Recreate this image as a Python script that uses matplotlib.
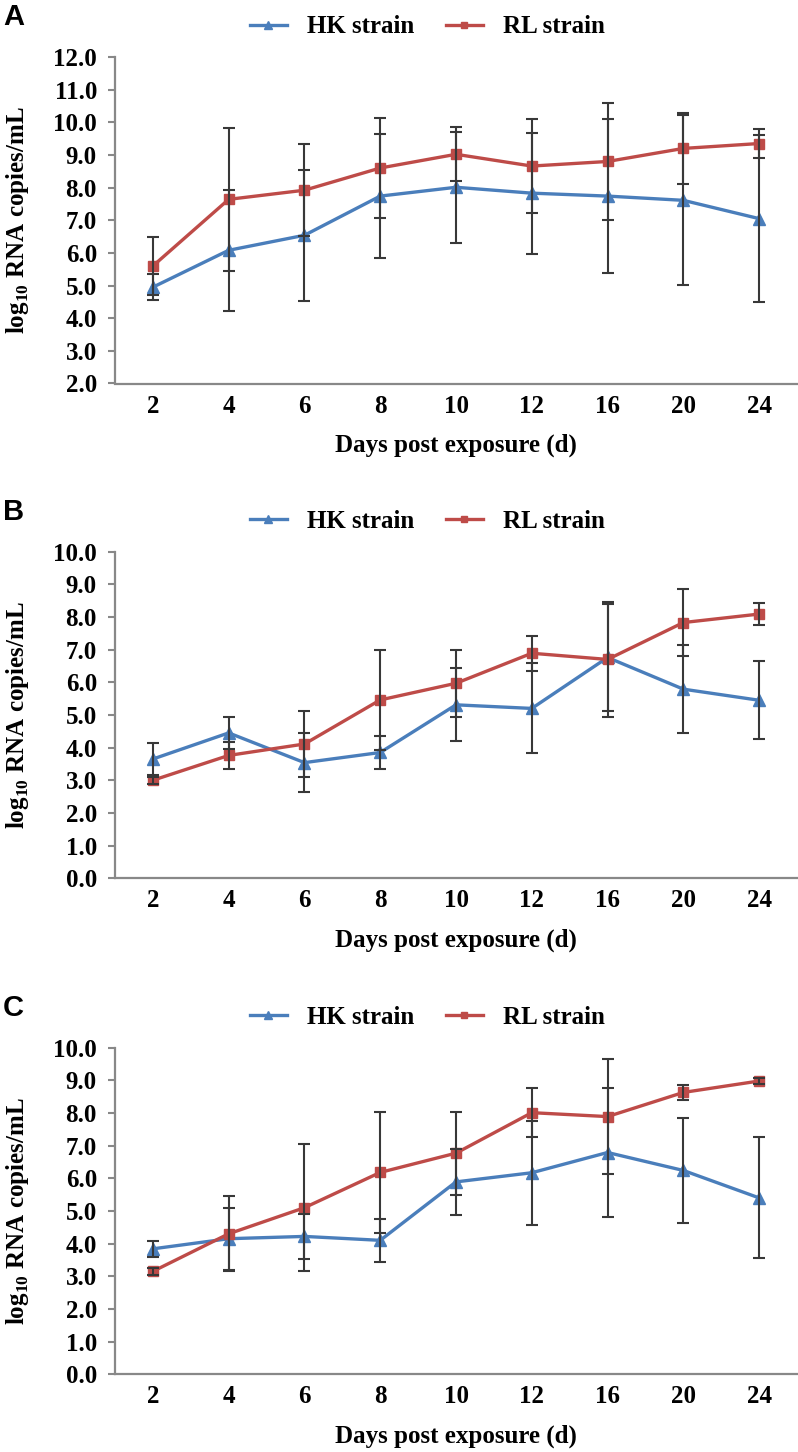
import numpy as np
import matplotlib
matplotlib.use("Agg")
import matplotlib.pyplot as plt

plt.rcParams['font.family'] = ['Liberation Serif', 'DejaVu Serif']
plt.rcParams['font.weight'] = 'bold'
plt.rcParams['mathtext.fontset'] = 'custom'
plt.rcParams['mathtext.rm'] = 'Liberation Serif:bold'
plt.rcParams['mathtext.bf'] = 'Liberation Serif:bold'

days = ['2', '4', '6', '8', '10', '12', '16', '20', '24']

# panel A
hk_a = [4.95, 6.08, 6.54, 7.74, 8.01, 7.83, 7.74, 7.61, 7.05]
hk_a_err = [0.40, 1.85, 2.00, 1.90, 1.70, 1.85, 2.35, 2.60, 2.55]
rl_a = [5.60, 7.64, 7.92, 8.60, 9.02, 8.66, 8.80, 9.20, 9.35]
rl_a_err = [0.88, 2.18, 1.41, 1.53, 0.83, 1.44, 1.80, 1.10, 0.45]

# panel B
hk_b = [3.65, 4.45, 3.54, 3.85, 5.31, 5.20, 6.76, 5.79, 5.45]
hk_b_err = [0.50, 0.50, 0.90, 0.52, 1.12, 1.38, 1.65, 1.35, 1.20]
rl_b = [3.00, 3.76, 4.11, 5.46, 5.97, 6.89, 6.70, 7.83, 8.09]
rl_b_err = [0.10, 0.42, 1.00, 1.53, 1.02, 0.53, 1.75, 1.02, 0.35]

# panel C
hk_c = [3.84, 4.15, 4.22, 4.10, 5.89, 6.17, 6.79, 6.24, 5.40]
hk_c_err = [0.25, 0.95, 0.70, 0.65, 1.00, 1.60, 1.97, 1.60, 1.85]
rl_c = [3.15, 4.30, 5.10, 6.18, 6.77, 8.01, 7.89, 8.63, 8.98]
rl_c_err = [0.10, 1.15, 1.95, 1.86, 1.27, 0.75, 1.76, 0.22, 0.10]

panels = [
    ('A', hk_a, hk_a_err, rl_a, rl_a_err, (2, 12)),
    ('B', hk_b, hk_b_err, rl_b, rl_b_err, (0, 10)),
    ('C', hk_c, hk_c_err, rl_c, rl_c_err, (0, 10)),
]

blue = '#4a7ebb'
red = '#be4b48'
fs = 18

fig = plt.figure(figsize=(7.98, 14.52), dpi=100)

tops = [57, 551.7, 1047.7]
H = 1452.0
W = 798.0
x = np.arange(len(days))

for (letter, hk, hk_err, rl, rl_err, ylim), top in zip(panels, tops):
    ax = fig.add_axes([115 / W, 1 - (top + 326.5) / H, 682 / W, 326.5 / H])

    ax.plot(x, hk, color=blue, lw=2.4, marker='^', ms=8.5, label='HK strain', zorder=2)
    ax.plot(x, rl, color=red, lw=2.4, marker='s', ms=7.5, label='RL strain', zorder=2)
    ax.errorbar(x, hk, yerr=hk_err, fmt='none', ecolor='#383838', elinewidth=1.5,
                capsize=4, capthick=1.5, zorder=3)
    ax.errorbar(x, rl, yerr=rl_err, fmt='none', ecolor='#383838', elinewidth=1.5,
                capsize=4, capthick=1.5, zorder=3)

    ax.set_xlim(-0.5, len(days) - 0.5)
    ax.set_ylim(*ylim)
    yt = np.arange(ylim[0], ylim[1] + 0.5, 1.0)
    ax.set_yticks(yt)
    ax.set_yticklabels(['%.1f' % v for v in yt])
    ax.set_xticks(x)
    ax.set_xticklabels(days)
    ax.tick_params(axis='x', length=0, pad=8, labelsize=fs)
    ax.tick_params(axis='y', length=5, width=1.5, color='#888888', pad=8, labelsize=fs)

    for s in ['top', 'right']:
        ax.spines[s].set_visible(False)
    for s in ['left', 'bottom']:
        ax.spines[s].set_color('#888888')
        ax.spines[s].set_linewidth(1.6)

    ax.text(0.5, -0.19, 'Days post exposure (d)', transform=ax.transAxes,
            ha='center', va='center', fontsize=fs, fontweight='bold')
    ax.text(-0.143, 0.5, r'log$_{\mathbf{10}}$ RNA copies/mL', transform=ax.transAxes,
            ha='center', va='center', rotation=90, fontsize=fs, fontweight='bold')

    ax.legend(loc='center', bbox_to_anchor=(0.458, 1.092), ncol=2, frameon=False,
              fontsize=fs, handlelength=1.5, columnspacing=1.25, handletextpad=0.8,
              markerscale=0.6)

    fig.text(3 / W, 1 - (top - 40) / H, letter, ha='left', va='center',
             fontsize=21, fontweight='bold', family='Liberation Sans')

fig.savefig('out.png', dpi=100)
